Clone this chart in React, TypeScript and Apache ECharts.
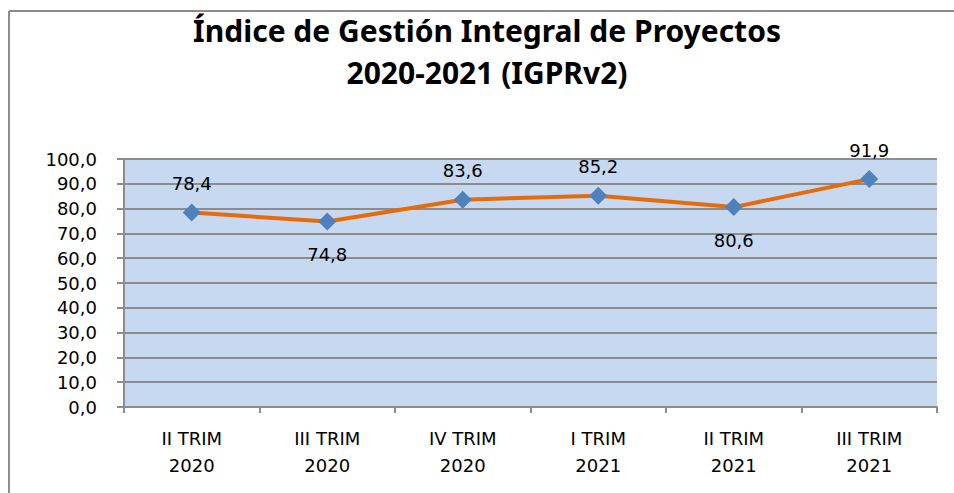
import React, { useEffect, useRef } from "react";
import * as echarts from "echarts";

const categories = ["II TRIM\n2020", "III TRIM\n2020", "IV TRIM\n2020", "I TRIM\n2021", "II TRIM\n2021", "III TRIM\n2021"];
const values = [78.4, 74.8, 83.6, 85.2, 80.6, 91.9];
const labelBelow = [false, true, false, false, true, false];
const titleLines = ["Índice de Gestión Integral de Proyectos", "2020-2021 (IGPRv2)"];

export default function App() {
  const ref = useRef<HTMLDivElement>(null);
  useEffect(() => {
    document.body.style.margin = "0";
    const chart = echarts.init(ref.current!, null, { renderer: "svg" });
    const fmt = (v: number) => v.toFixed(1).replace(".", ",");
    chart.setOption({
      animation: false,
      backgroundColor: "#ffffff",
      graphic: [
        { type: "line", shape: { x1: 9, y1: 11, x2: 960, y2: 11 }, style: { stroke: "#8c8c8c", lineWidth: 2 } },
        { type: "line", shape: { x1: 9, y1: 11, x2: 9, y2: 500 }, style: { stroke: "#8c8c8c", lineWidth: 2 } },
        {
          type: "text", x: 487, y: 51,
          style: {
            text: titleLines.join("\n"), fontFamily: "Noto Sans", fontWeight: "bold", fontSize: 30, lineHeight: 42,
            fill: "#000", align: "center", verticalAlign: "middle",
          },
        },
      ],
      grid: { left: 124, top: 159, width: 813, height: 248, backgroundColor: "#c6d9f0", show: true, borderWidth: 0 },
      xAxis: {
        type: "category",
        data: categories,
        boundaryGap: true,
        axisLine: { lineStyle: { color: "#8c8c8c", width: 2 } },
        axisTick: { show: true, length: 6, lineStyle: { color: "#8c8c8c", width: 2 } },
        axisLabel: { color: "#000", fontFamily: "DejaVu Sans", fontSize: 18, lineHeight: 27, margin: 18 },
      },
      yAxis: {
        type: "value",
        min: 0, max: 100, interval: 10,
        axisLine: { show: true, lineStyle: { color: "#8c8c8c", width: 2 } },
        axisTick: { show: true, length: 7, lineStyle: { color: "#8c8c8c", width: 2 } },
        splitLine: { lineStyle: { color: "#8c8c8c", width: 2 } },
        axisLabel: { color: "#000", fontFamily: "DejaVu Sans", fontSize: 18, margin: 27, formatter: (v: number) => fmt(v) },
      },
      series: [
        {
          type: "line",
          data: values.map((v, i) => ({
            value: v,
            label: { position: labelBelow[i] ? "bottom" : "top", distance: labelBelow[i] ? 15 : 11 },
          })),
          lineStyle: { color: "#e46c0a", width: 4 },
          itemStyle: { color: "#4f81bd" },
          symbol: "diamond",
          symbolSize: 18,
          label: { show: true, color: "#000", fontFamily: "DejaVu Sans", fontSize: 18, formatter: (p: any) => fmt(p.value) },
          z: 3,
        },
      ],
    });
    return () => chart.dispose();
  }, []);
  return <div ref={ref} style={{ width: 954, height: 493 }} />;
}
